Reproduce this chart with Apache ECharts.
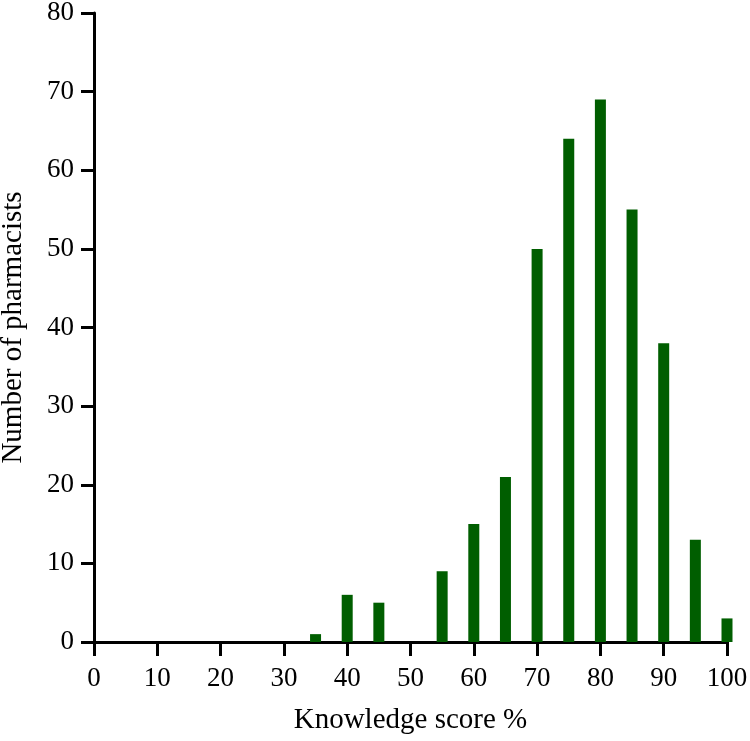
<!DOCTYPE html>
<html>
<head>
<meta charset="utf-8">
<script src="https://cdn.jsdelivr.net/npm/echarts@6/dist/echarts.min.js"></script>
<style>
  html, body { margin: 0; padding: 0; background: #fff; }
  #chart { width: 750px; height: 741px; }
</style>
</head>
<body>
<div id="chart"></div>
<script>
// knowledge score bins and counts
var scores = [35, 40, 45, 55, 60, 65, 70, 75, 80, 85, 90, 95, 100];
var counts = [1, 6, 5, 9, 15, 21, 50, 64, 69, 55, 38, 13, 3];

var barData = [];
for (var i = 0; i < scores.length; i++) {
	barData.push([scores[i], counts[i]]);
}

var font = "Liberation Serif";
var myChart = echarts.init(document.getElementById('chart'));
var option = {
	animation: false,
	grid: { left: 94, right: 23, top: 13, bottom: 99, outerBoundsMode: 'none', containLabel: false },
	xAxis: {
		type: 'value',
		min: 0,
		max: 100,
		interval: 10,
		name: 'Knowledge score %',
		nameLocation: 'middle',
		nameGap: 64,
		nameTextStyle: { fontFamily: font, fontSize: 29, color: '#000' },
		axisLine: { show: true, onZero: false, lineStyle: { color: '#000', width: 3 } },
		axisTick: { show: true, length: 14, lineStyle: { color: '#000', width: 3 } },
		axisLabel: { fontFamily: font, fontSize: 27, color: '#000', margin: 23 },
		splitLine: { show: false }
	},
	yAxis: {
		type: 'value',
		min: 0,
		max: 80,
		interval: 10,
		name: 'Number of pharmacists',
		nameLocation: 'middle',
		nameGap: 66,
		nameTextStyle: { fontFamily: font, fontSize: 29, color: '#000' },
		axisLine: { show: true, lineStyle: { color: '#000', width: 3 } },
		axisTick: { show: true, length: 13, lineStyle: { color: '#000', width: 3 } },
		axisLabel: { fontFamily: font, fontSize: 27, color: '#000', margin: 20 },
		splitLine: { show: false }
	},
	series: [
		{
			type: 'bar',
			data: barData,
			barWidth: 11,
			itemStyle: { color: '#005e00' }
		}
	]
};
myChart.setOption(option);
</script>
</body>
</html>
